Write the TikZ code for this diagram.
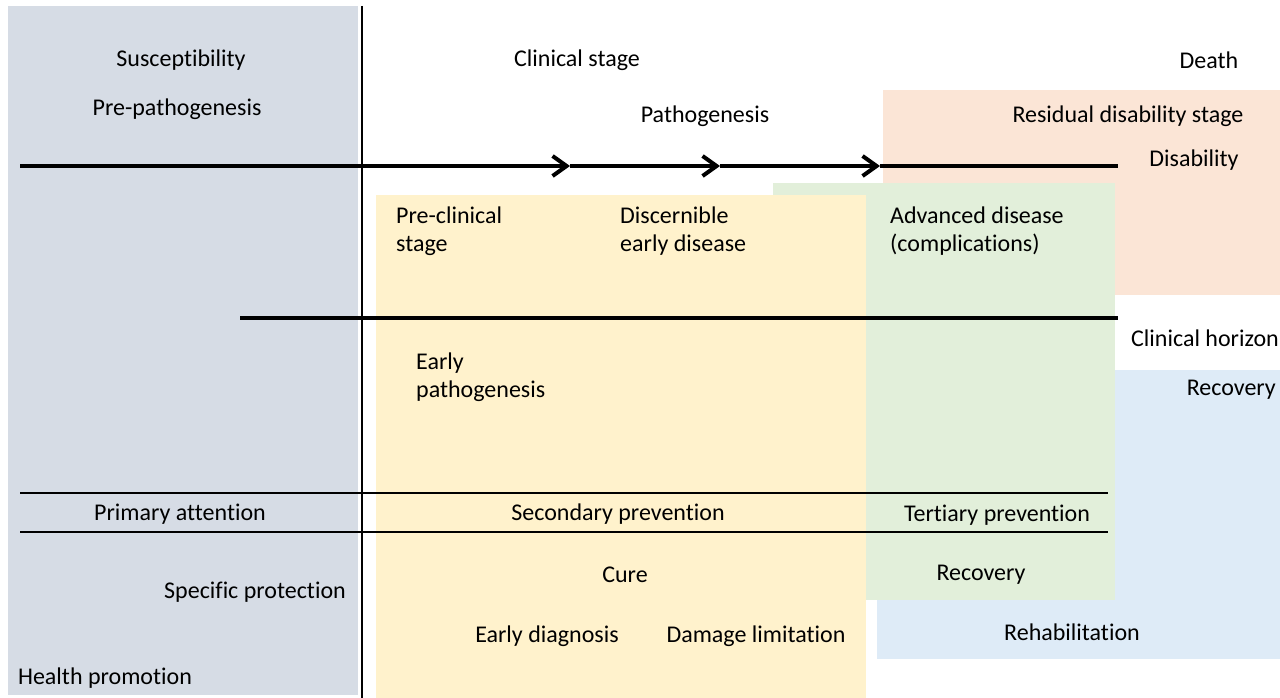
\documentclass[tikz,border=0pt]{standalone}
\usepackage{fontspec}
\setmainfont[Ligatures=CommonOff]{Carlito}
\usetikzlibrary{arrows.meta}
\definecolor{susgray}{HTML}{D6DCE5}
\definecolor{clinyellow}{HTML}{FFF2CC}
\definecolor{advgreen}{HTML}{E2EFDA}
\definecolor{residpeach}{HTML}{FBE5D6}
\definecolor{rehabblue}{HTML}{DEEBF7}
\begin{document}
\begin{tikzpicture}[x=1pt,y=-1pt,font=\fontsize{24}{28}\selectfont]
\tikzstyle{lbl} = [inner sep=0pt, align=center]
\tikzstyle{lbll} = [inner sep=0pt, align=left, anchor=west]
\tikzstyle{axis} = [line width=3.5pt]
\tikzstyle{sep} = [line width=1.2pt]
\tikzstyle{barb} = [-{Straight Barb[length=14pt,width=20pt,line width=4pt]}]

\useasboundingbox (0,0) rectangle (1280,698);

% stage areas
\fill[susgray] (8,6) rectangle (358,695);
\fill[residpeach] (883,90) rectangle (1280,295);
\fill[rehabblue] (877,370) rectangle (1280,659);
\fill[advgreen] (773,183) rectangle (1115,600);
\fill[clinyellow] (376,195) rectangle (866,698);

\coordinate (v0) at (362,6);
\coordinate (v1) at (362,698);
\draw[line width=1.5pt] (v0) -- (v1);

% course of the disease
\coordinate (p0) at (20,166);
\coordinate (p1) at (570,166);
\coordinate (p2) at (720,166);
\coordinate (p3) at (880,166);
\coordinate (p4) at (1118,166);
\draw[axis,barb] (p0) -- (p1);
\draw[axis,barb] (p1) -- (p2);
\draw[axis,barb] (p2) -- (p3);
\draw[axis] (p3) -- (p4);

\coordinate (h0) at (240,318);
\coordinate (h1) at (1118,318);
\draw[axis] (h0) -- (h1);

\coordinate (s0) at (20,493);
\coordinate (s1) at (1108,493);
\coordinate (s2) at (20,532);
\coordinate (s3) at (1108,532);
\draw[sep] (s0) -- (s1);
\draw[sep] (s2) -- (s3);

\node[lbl] (suscept) at (181,60) {Susceptibility};
\node[lbl] (prepath) at (177,109) {Pre-pathogenesis};
\node[lbl] (clinstage) at (577,60) {Clinical stage};
\node[lbl] (pathog) at (705,116) {Pathogenesis};
\node[lbl] (death) at (1209,60) {Death};
\node[lbl] (residual) at (1128,116) {Residual disability stage};
\node[lbl] (disab) at (1194,160) {Disability};

\node[lbll] (preclin) at (396,231) {Pre-clinical\\stage};
\node[lbll] (discern) at (620,231) {Discernible\\early disease};
\node[lbll] (advanced) at (890,231) {Advanced disease\\(complications)};

\node[lbl] (horizon) at (1205,338) {Clinical horizon};
\node[lbl, anchor=east] (recov1) at (1276,390) {Recovery};
\node[lbll] (earlypath) at (416,377) {Early\\pathogenesis};

\node[lbl] (primary) at (180,514) {Primary attention};
\node[lbl] (secondary) at (618,514) {Secondary prevention};
\node[lbl] (tertiary) at (997,515) {Tertiary prevention};

\node[lbl] (cure) at (625,575) {Cure};
\node[lbl] (recov2) at (981,575) {Recovery};
\node[lbl] (specific) at (255,592) {Specific protection};
\node[lbl] (rehab) at (1072,632) {Rehabilitation};
\node[lbl] (earlydiag) at (547,636) {Early diagnosis};
\node[lbl] (damage) at (756,636) {Damage limitation};
\node[lbl] (healthprom) at (105,678) {Health promotion};

\end{tikzpicture}
\end{document}
